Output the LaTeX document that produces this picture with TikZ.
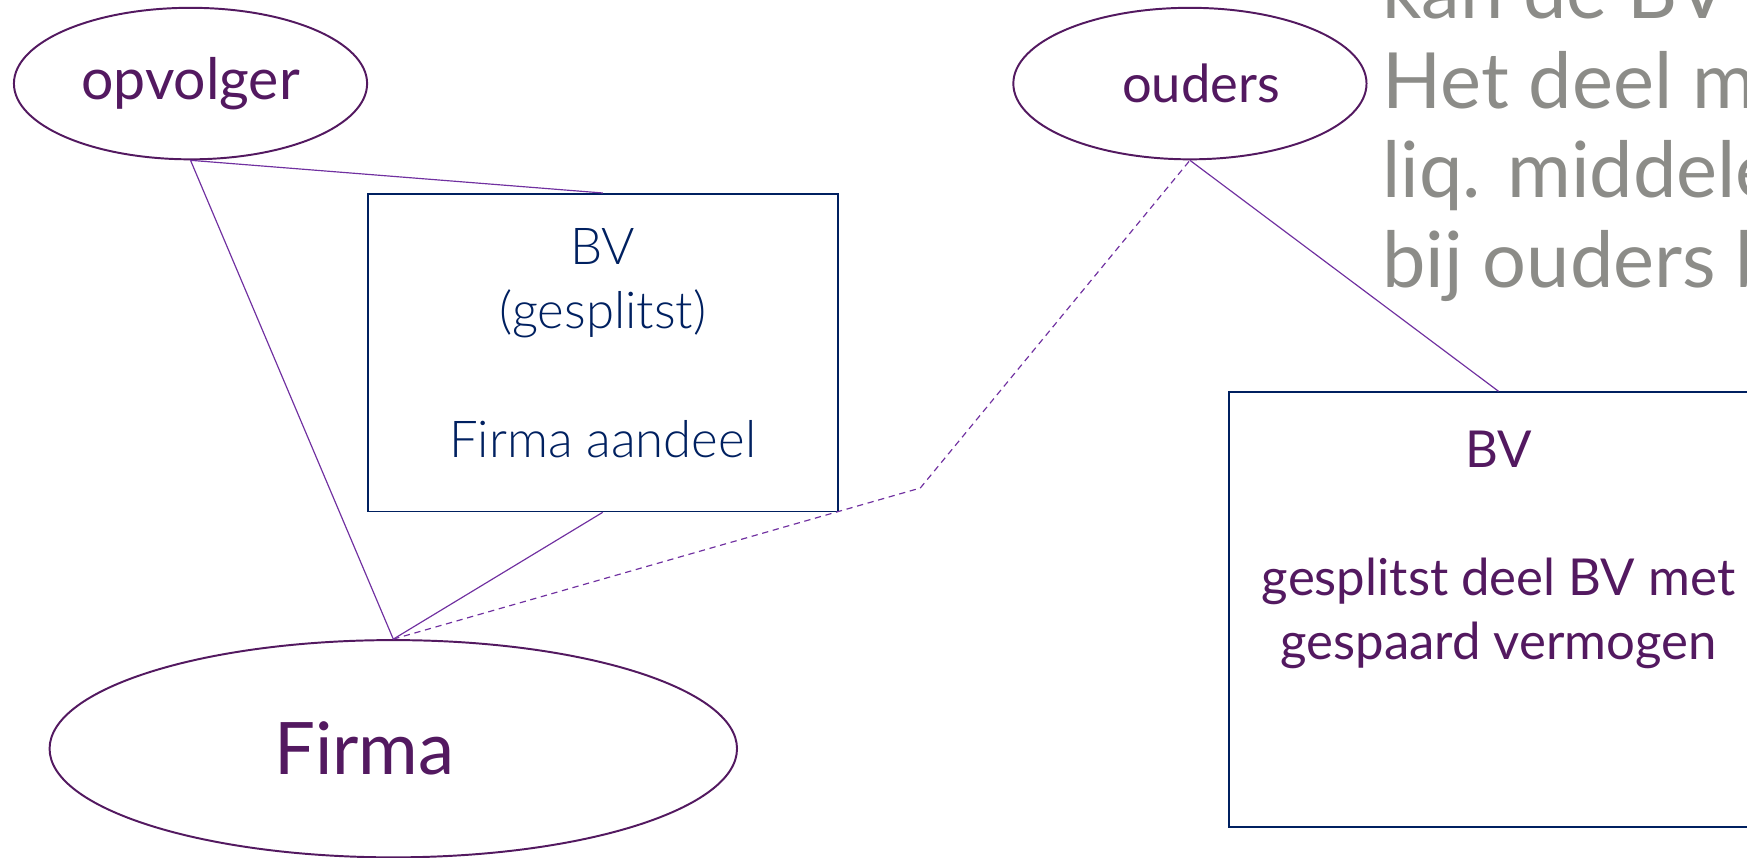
\documentclass[tikz,border=0pt]{standalone}
\usepackage{fontspec}
\setmainfont{Lato}
\newfontfamily\latolicht{Lato Light}
\usetikzlibrary{shapes.geometric}
\definecolor{paars}{RGB}{83,25,96}
\definecolor{lijnpaars}{RGB}{112,48,160}
\definecolor{marine}{RGB}{0,32,96}
\definecolor{grijs}{RGB}{140,140,136}
\tikzset{
    partij/.style={ellipse,draw=paars,line width=0.5pt,text=paars,inner sep=0pt},
    bvbox/.style={rectangle,draw=marine,line width=0.45pt,inner sep=0pt,align=center,font=\fontsize{13}{16.4}\selectfont},
    lijn/.style={draw=lijnpaars,line width=0.3pt}
}

\begin{document}
\begin{tikzpicture}
        \path[use as bounding box,clip] (0,0) rectangle (15.68,-7.70);
        \node[partij,minimum width=3.17cm,minimum height=1.36cm,font=\fontsize{14.6}{17}\selectfont] (opvolger) at (1.71,-0.75) {opvolger};
        \node[partij,minimum width=3.17cm,minimum height=1.36cm,font=\fontsize{13.4}{17}\selectfont] (ouders) at (10.68,-0.75) {\hspace{0.2cm}ouders};
        \node[partij,minimum width=6.17cm,minimum height=1.95cm,font=\fontsize{18.5}{22}\selectfont] (firma) at (3.53,-6.72) {Firma\hspace{0.52cm}\mbox{}};
        \node[bvbox,text=marine,minimum width=4.22cm,minimum height=2.85cm,font=\latolicht\fontsize{13}{16.4}\selectfont] (bvfirma) at (5.41,-3.165) {BV\\(gesplitst)\\[16.4pt]Firma aandeel\\[-11.4pt]\mbox{}};
        \node[bvbox,text=paars,minimum width=4.84cm,minimum height=3.90cm] (bvspaar) at (13.45,-5.47) {BV\\[16.4pt]gesplitst deel BV met\\gespaard vermogen\\[16.4pt]\mbox{}};
        \node[anchor=base west,align=left,text=grijs,inner sep=0pt,font=\fontsize{19.8}{22.9}\selectfont] (uitleg) at (12.40,-2.58) {kan de BV\\Het deel m\\liq. middele\\bij ouders b};
        \coordinate (knik) at (8.26,-4.38);
        \draw[lijn] (opvolger.south) -- (firma.north);
        \draw[lijn] (opvolger.south) -- (bvfirma.north);
        \draw[lijn] (bvfirma.south) -- (firma.north);
        \draw[lijn,dash pattern=on 1.6pt off 1.2pt] (firma.north) -- (knik) -- (ouders.south);
        \draw[lijn] (ouders.south) -- (bvspaar.north);
    \end{tikzpicture}
\end{document}
